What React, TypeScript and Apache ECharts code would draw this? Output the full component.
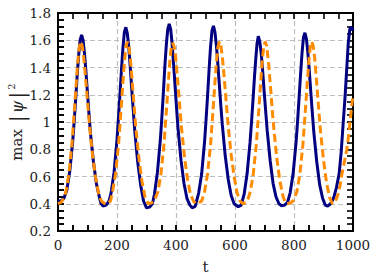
import React, { useEffect, useRef } from "react";
import * as echarts from "echarts";

const xTicks = [0, 200, 400, 600, 800, 1000];
const yTicks = [0.2, 0.4, 0.6, 0.8, 1.0, 1.2, 1.4, 1.6, 1.8];
const xTitle = "t";
const yTitle = "{a|max }{b||}{c|ψ}{b||}{d|2}";

// navy solid curve: [t, max|psi|^2]
const navySeries: [number, number][] = [
  [0, 0.42], [10, 0.42], [20, 0.44], [30, 0.5], [40, 0.64], [50, 0.86], [55, 1.01], [60, 1.17], [65, 1.34], [70, 1.49], [75, 1.6], [80, 1.64],
  [85, 1.6], [90, 1.5], [95, 1.36], [100, 1.21], [105, 1.06], [110, 0.92], [120, 0.71], [130, 0.55], [140, 0.45], [146, 0.4], [153, 0.384],
  [163, 0.39], [173, 0.42], [180, 0.48], [190, 0.63], [200, 0.87], [205, 1.03], [210, 1.2], [215, 1.38], [220, 1.54], [225, 1.66], [230, 1.695],
  [235, 1.65], [240, 1.55], [245, 1.4], [250, 1.24], [255, 1.09], [260, 0.94], [270, 0.71], [280, 0.54], [290, 0.42], [300, 0.37],
  [310, 0.375], [320, 0.4], [327, 0.47], [337, 0.63], [347, 0.87], [352, 1.03], [357, 1.21], [362, 1.4], [367, 1.56], [372, 1.68], [377, 1.72],
  [382, 1.68], [387, 1.57], [392, 1.42], [397, 1.26], [402, 1.1], [407, 0.95], [417, 0.72], [427, 0.55], [437, 0.44], [447, 0.39], [455, 0.37],
  [465, 0.38], [477, 0.48], [487, 0.62], [497, 0.86], [502, 1.02], [507, 1.19], [512, 1.38], [517, 1.55], [522, 1.67], [527, 1.705],
  [532, 1.66], [537, 1.56], [542, 1.42], [547, 1.27], [552, 1.12], [557, 0.98], [567, 0.75], [577, 0.58], [587, 0.46], [597, 0.4], [611, 0.378],
  [621, 0.39], [631, 0.47], [641, 0.62], [651, 0.85], [656, 1.0], [661, 1.16], [666, 1.33], [671, 1.48], [675, 1.58], [679, 1.63],
  [684, 1.59], [689, 1.5], [694, 1.37], [699, 1.22], [704, 1.08], [709, 0.94], [719, 0.72], [729, 0.55], [739, 0.45], [749, 0.4], [758, 0.386],
  [768, 0.39], [778, 0.41], [787, 0.48], [797, 0.62], [807, 0.85], [812, 1.0], [817, 1.17], [822, 1.34], [827, 1.5], [832, 1.62], [837, 1.655],
  [842, 1.61], [847, 1.51], [852, 1.37], [857, 1.22], [862, 1.07], [867, 0.93], [877, 0.71], [887, 0.54], [897, 0.44], [906, 0.39], [914, 0.382],
  [924, 0.4], [934, 0.44], [944, 0.52], [953, 0.62], [960, 0.78], [967, 1.0], [973, 1.18], [979, 1.4], [984, 1.58], [989, 1.68], [994, 1.7], [1000, 1.67],
];

// orange dashed curve: [t, max|psi|^2]
const orangeSeries: [number, number][] = [
  [0, 0.4], [10, 0.41], [20, 0.44], [27, 0.49], [37, 0.62], [47, 0.83], [52, 0.98], [57, 1.13], [62, 1.29], [67, 1.44], [72, 1.55], [77, 1.59],
  [82, 1.56], [87, 1.48], [92, 1.36], [97, 1.23], [102, 1.1], [107, 0.97], [117, 0.76], [127, 0.6], [137, 0.48], [147, 0.42], [159, 0.4],
  [169, 0.405], [178, 0.42], [185, 0.49], [195, 0.62], [205, 0.83], [210, 0.98], [215, 1.13], [220, 1.29], [225, 1.44], [230, 1.55], [235, 1.59],
  [240, 1.56], [245, 1.47], [250, 1.34], [255, 1.2], [260, 1.06], [265, 0.93], [275, 0.72], [285, 0.56], [295, 0.45], [306, 0.4],
  [316, 0.405], [326, 0.42], [339, 0.49], [349, 0.62], [359, 0.83], [364, 0.98], [369, 1.13], [374, 1.29], [379, 1.44], [384, 1.55], [389, 1.58],
  [394, 1.55], [399, 1.47], [404, 1.35], [409, 1.22], [414, 1.08], [419, 0.95], [429, 0.74], [439, 0.58], [449, 0.47], [459, 0.42], [467, 0.4],
  [477, 0.405], [487, 0.42], [497, 0.49], [507, 0.62], [517, 0.83], [522, 0.98], [527, 1.13], [532, 1.29], [537, 1.44], [542, 1.55], [547, 1.59],
  [552, 1.56], [557, 1.48], [562, 1.36], [567, 1.23], [572, 1.1], [577, 0.97], [587, 0.76], [597, 0.6], [607, 0.48], [617, 0.42], [628, 0.4],
  [638, 0.41], [645, 0.44], [652, 0.49], [662, 0.62], [672, 0.83], [677, 0.98], [682, 1.13], [687, 1.29], [692, 1.44], [697, 1.55], [702, 1.59],
  [707, 1.56], [712, 1.47], [717, 1.35], [722, 1.21], [727, 1.07], [732, 0.94], [742, 0.73], [752, 0.57], [762, 0.46], [770, 0.41], [777, 0.4],
  [787, 0.405], [797, 0.42], [810, 0.49], [820, 0.62], [830, 0.83], [835, 0.98], [840, 1.13], [845, 1.29], [850, 1.44], [855, 1.55], [860, 1.59],
  [865, 1.56], [870, 1.47], [875, 1.34], [880, 1.2], [885, 1.06], [890, 0.93], [900, 0.72], [910, 0.56], [920, 0.45], [930, 0.4],
  [940, 0.42], [948, 0.46], [955, 0.52], [961, 0.6], [970, 0.7], [979, 0.8], [985, 0.9], [990, 1.01], [995, 1.1], [1000, 1.2],
];

const FONT = "DejaVu Serif";

export default function App() {
  const ref = useRef<HTMLDivElement>(null);
  useEffect(() => {
    if (!ref.current) return;
    document.body.style.margin = "0";
    const chart = echarts.init(ref.current, null, { renderer: "svg" });
    const xMin = xTicks[0];
    const xMax = xTicks[xTicks.length - 1];
    const xStep = xTicks[1] - xTicks[0];
    const yMin = yTicks[0];
    const yMax = yTicks[yTicks.length - 1];
    const frameAxis = (gridIndex: number, position: string, min: number, max: number, interval: number) => ({
      type: "value", gridIndex, position, min, max, interval,
      axisLine: { show: true, lineStyle: { color: "#000", width: 2 } },
      axisTick: { show: true, inside: true, length: 6, lineStyle: { color: "#000", width: 1.6 } },
      minorTick: { show: true, splitNumber: 4, length: 6, lineStyle: { color: "#000", width: 1.6 } },
      splitLine: { show: false },
      axisLabel: { show: false },
    });
    chart.setOption({
      animation: false,
      backgroundColor: "#fff",
      grid: [
        { left: 58, right: 29, top: 13, bottom: 49 },
        { left: 58, right: 29, top: 13, bottom: 49 },
      ],
      graphic: [
        {
          type: "text", x: 205.5, y: 267,
          style: { text: xTitle, font: `15px "${FONT}"`, fill: "#222", align: "center", verticalAlign: "middle" },
        },
        {
          type: "text", x: 17, y: 122, rotation: Math.PI / 2,
          style: {
            text: yTitle, fill: "#222", align: "center", verticalAlign: "middle",
            fontFamily: FONT, fontSize: 15,
            rich: {
              a: { fontFamily: FONT, fontSize: 15, fill: "#222" },
              b: { fontFamily: FONT, fontSize: 21, fill: "#222", padding: [0, 2, 0, 2] },
              c: { fontFamily: FONT, fontSize: 16, fontStyle: "italic", fill: "#222" },
              d: { fontFamily: FONT, fontSize: 10, fill: "#222", verticalAlign: "top" },
            },
          },
        },
      ],
      xAxis: [
        {
          type: "value", gridIndex: 0, min: xMin, max: xMax, interval: xStep,
          axisLine: { show: true, lineStyle: { color: "#000", width: 2 } },
          axisTick: { show: true, inside: true, length: 6, lineStyle: { color: "#000", width: 1.6 } },
          minorTick: { show: true, splitNumber: 4, length: 6, lineStyle: { color: "#000", width: 1.6 } },
          splitLine: { show: true, lineStyle: { color: "#bdbdbd", width: 1.2, type: [5, 3] } },
          axisLabel: { fontFamily: FONT, fontSize: 13.5, color: "#222", margin: 7, formatter: (v: number) => String(v) },
        },
        // frame tick axes in a second, identical grid (range offset so that no axis snaps onto zero)
        frameAxis(1, "bottom", xMax, 2 * xMax, xStep),
        frameAxis(1, "top", xMax, 2 * xMax, xStep),
      ],
      yAxis: [
        {
          type: "value", gridIndex: 0, min: yMin, max: yMax, interval: 0.2,
          axisLine: { show: true, lineStyle: { color: "#000", width: 2 } },
          axisTick: { show: true, inside: true, length: 6, lineStyle: { color: "#000", width: 1.6 } },
          minorTick: { show: true, splitNumber: 4, length: 6, lineStyle: { color: "#000", width: 1.6 } },
          splitLine: { show: true, lineStyle: { color: "#bdbdbd", width: 1.2, type: [5, 3] } },
          axisLabel: { fontFamily: FONT, fontSize: 13.5, color: "#222", margin: 7, formatter: (v: number) => String(Math.round(v * 10) / 10) },
        },
        frameAxis(1, "left", yMin, yMax, 0.2),
        frameAxis(1, "right", yMin, yMax, 0.2),
      ],
      series: [
        {
          type: "line", xAxisIndex: 0, yAxisIndex: 0, data: navySeries, showSymbol: false,
          lineStyle: { color: "#000080", width: 3 },
        },
        {
          type: "line", xAxisIndex: 0, yAxisIndex: 0, data: orangeSeries, showSymbol: false,
          lineStyle: { color: "#ff8c00", width: 3, type: [8, 4] },
        },
      ],
    });
    return () => chart.dispose();
  }, []);
  return <div ref={ref} style={{ width: 382, height: 280 }} />;
}
